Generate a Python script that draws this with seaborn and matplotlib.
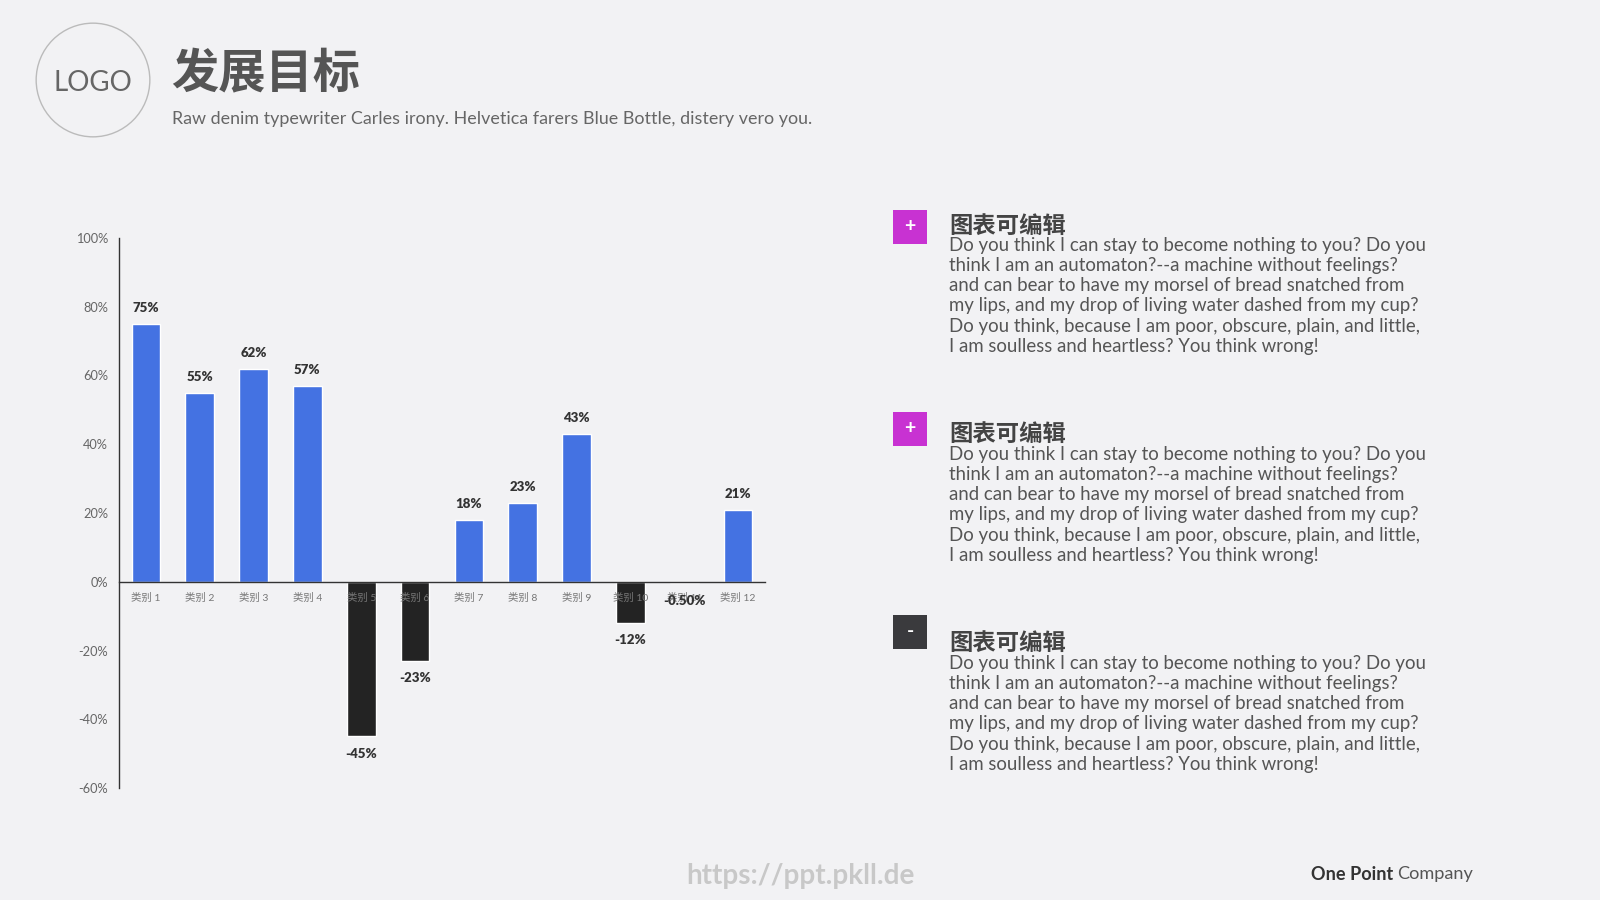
import matplotlib
matplotlib.use("Agg")
import matplotlib.pyplot as plt
from matplotlib.patches import Circle, Rectangle
import seaborn as sns
import pandas as pd

# ---------------- data ----------------
categories = ["类别 1", "类别 2", "类别 3", "类别 4", "类别 5", "类别 6",
              "类别 7", "类别 8", "类别 9", "类别 10", "类别 11", "类别 12"]
values = [0.75, 0.55, 0.62, 0.57, -0.45, -0.23, 0.18, 0.23, 0.43, -0.12, -0.005, 0.21]
value_labels = ["75%", "55%", "62%", "57%", "-45%", "-23%", "18%", "23%", "43%", "-12%", "-0.50%", "21%"]
y_ticks = [-0.6, -0.4, -0.2, 0.0, 0.2, 0.4, 0.6, 0.8, 1.0]
y_tick_labels = ["-60%", "-40%", "-20%", "0%", "20%", "40%", "60%", "80%", "100%"]

title = "发展目标"
subtitle = "Raw denim typewriter Carles irony. Helvetica farers Blue Bottle, distery vero you."
block_heading = "图表可编辑"
block_body = ("Do you think I can stay to become nothing to you? Do you\n"
              "think I am an automaton?--a machine without feelings?\n"
              "and can bear to have my morsel of bread snatched from\n"
              "my lips, and my drop of living water dashed from my cup?\n"
              "Do you think, because I am poor, obscure, plain, and little,\n"
              "I am soulless and heartless? You think wrong!")
block_signs = ["+", "+", "-"]

BG = "#F2F2F4"
BLUE = "#4472E2"
DARK = "#232323"
MAGENTA = "#C832D2"
BOXDARK = "#3A3A3D"

sns.set_theme(style="white")
plt.rcParams["font.family"] = ["Lato", "Noto Sans CJK SC", "DejaVu Sans"]

fig = plt.figure(figsize=(16, 9), dpi=100, facecolor=BG)

W, H = 1600, 900
def fx(px):
    return px / W
def fy(py):
    return 1 - py / H

# ---------------- chart ----------------
ax = fig.add_axes([fx(119), fy(788), fx(765) - fx(119), fy(238) - fy(788)])
ax.set_facecolor("none")

df = pd.DataFrame({"cat": categories, "val": values})
colors = [BLUE if (v >= 0 or abs(v) < 0.01) else DARK for v in values]
sns.barplot(data=df, x="cat", y="val", hue="cat", palette=colors, legend=False,
            width=0.53, ax=ax, saturation=1)

ax.set_axisbelow(False)
ax.set_ylim(-0.6, 1.0)
ax.set_xlim(-0.5, len(categories) - 0.5)
ax.set_yticks(y_ticks)
ax.set_yticklabels(y_tick_labels)
ax.set_xlabel("")
ax.set_ylabel("")
for s in ["top", "right"]:
    ax.spines[s].set_visible(False)
ax.spines["left"].set_color("#333333")
ax.spines["left"].set_linewidth(1.0)
ax.spines["bottom"].set_position(("data", 0))
ax.spines["bottom"].set_color("#333333")
ax.spines["bottom"].set_linewidth(1.0)
ax.tick_params(axis="y", length=0, pad=8, labelsize=9.2, labelcolor="#666666")
ax.tick_params(axis="x", length=0, pad=8, labelsize=7.5, labelcolor="#777777")

for i, (v, lab) in enumerate(zip(values, value_labels)):
    if v >= 0:
        ax.annotate(lab, (i, v), xytext=(0, 7), textcoords="offset points",
                    ha="center", va="bottom", fontsize=9.5, fontweight="heavy", color="#333333")
    else:
        ax.annotate(lab, (i, v), xytext=(0, -8), textcoords="offset points",
                    ha="center", va="top", fontsize=9.5, fontweight="heavy", color="#333333")

# ---------------- header ----------------
circ_ax = fig.add_axes([fx(35), fy(138), fx(116), fy(22) - fy(138)])
circ_ax.set_xlim(-1, 1)
circ_ax.set_ylim(-1, 1)
circ_ax.axis("off")
circ_ax.add_patch(Circle((0, 0), 0.98, fill=False, edgecolor="#BBBBBB", linewidth=1.0))
circ_ax.text(0, -0.06, "LOGO", ha="center", va="center", fontsize=20, color="#666666")

fig.text(fx(171), fy(74), title, fontsize=34, fontweight="bold", color="#555555",
         ha="left", va="center", family=["Noto Sans CJK SC", "DejaVu Sans"])
fig.text(fx(172), fy(119), subtitle, fontsize=12.9, color="#666666",
         ha="left", va="center")

# ---------------- right text blocks ----------------
box_tops = [210, 412, 615]
head_y = [226, 434, 643]
body_y = [248, 457, 666]
for sign, bt, hy, by in zip(block_signs, box_tops, head_y, body_y):
    col = MAGENTA if sign == "+" else BOXDARK
    fig.patches.append(Rectangle((fx(893), fy(bt + 34)), 34 / W, 34 / H,
                                 transform=fig.transFigure, facecolor=col, edgecolor="none"))
    fig.text(fx(910), fy(bt + 17), sign, fontsize=14, fontweight="bold", color="white",
             ha="center", va="center")
    fig.text(fx(949), fy(hy), block_heading, fontsize=16.8, fontweight="bold", color="#444444",
             ha="left", va="center", family=["Noto Sans CJK SC", "DejaVu Sans"])
    fig.text(fx(949), fy(by) + 0.012, block_body, fontsize=13.4, color="#555555",
             ha="left", va="top", linespacing=1.22)

# ---------------- footer ----------------
fig.text(fx(800), fy(876), "https://ppt.pkll.de", fontsize=20, fontweight="bold",
         color="#C8C8C8", ha="center", va="center")
t_company = fig.text(fx(1473), fy(874), "Company", fontsize=13.1, color="#555555",
                     ha="right", va="center")
fig.canvas.draw()
r = fig.canvas.get_renderer()
bb = t_company.get_window_extent(renderer=r)
fig.text((bb.x0 - 4) / W, fy(874), "One Point", fontsize=13.1, fontweight="bold",
         color="#333333", ha="right", va="center")

fig.savefig("out.png", dpi=100, facecolor=BG)
